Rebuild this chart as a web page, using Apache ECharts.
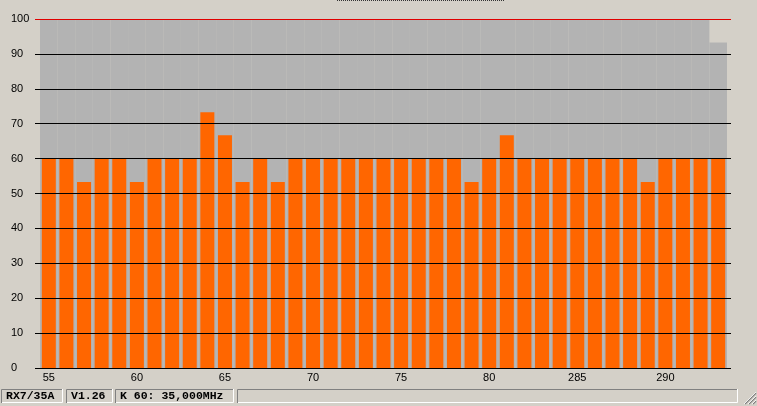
<!DOCTYPE html>
<html>
<head>
<meta charset="utf-8">
<script src="https://cdn.jsdelivr.net/npm/echarts@6/dist/echarts.min.js"></script>
<style>
html,body{margin:0;padding:0;background:#d4d0c8;}
#c{width:757px;height:406px;}
</style>
</head>
<body>
<div id="c"></div>
<script>
// Channel categories (tick labels shown every 5th)
const categories = ['55','56','57','58','59','60','61','62','63','64','65','66','67','68','69','70','71','72','73','74','75','76','77','78','79','80','281','282','283','284','285','286','287','288','289','290','291','292','293'];
// Bar values (%)
const levels = [60,60,53.3,60,60,53.3,60,60,60,73.3,66.7,53.3,60,53.3,60,60,60,60,60,60,60,60,60,60,53.3,60,66.7,60,60,60,60,60,60,60,53.3,60,60,60,60];
// Panel background extent per channel
const panelMax = [100,100,100,100,100,100,100,100,100,100,100,100,100,100,100,100,100,100,100,100,100,100,100,100,100,100,100,100,100,100,100,100,100,100,100,100,100,100,93.3];
// Y tick labels
const yTicks = [0,10,20,30,40,50,60,70,80,90,100];
// Status bar texts
const statusTexts = ['RX7/35A','V1.26','K 60: 35,000MHz',''];

(function(){
const chart = echarts.init(document.getElementById('c'), null, {renderer:'canvas'});

const gridColors = yTicks.map(v => v === 100 ? '#e00000' : '#000000');

const panels = [[1,63],[66,113],[115,234],[237,738]];
const graphics = [];
const pTop = 389, pBot = 403;
panels.forEach((p, i) => {
  const x0 = p[0], x1 = p[1];
  graphics.push({type:'polyline', silent:true, shape:{points:[[x0+0.5,pBot],[x0+0.5,pTop+0.5],[x1,pTop+0.5]]}, style:{stroke:'#808080', lineWidth:1, fill:null}});
  graphics.push({type:'polyline', silent:true, shape:{points:[[x0+1,pBot-0.5],[x1-0.5,pBot-0.5],[x1-0.5,pTop]]}, style:{stroke:'#ffffff', lineWidth:1, fill:null}});
  if (statusTexts[i]) {
    graphics.push({type:'text', silent:true, x:x0+5, y:396, style:{text:statusTexts[i], font:'bold 11.5px "Liberation Mono", monospace', fill:'#000', verticalAlign:'middle'}});
  }
});
[[756,393,745,404],[756,397,749,404],[756,401,753,404]].forEach(l => {
  graphics.push({type:'line', silent:true, shape:{x1:l[0],y1:l[1],x2:l[2],y2:l[3]}, style:{stroke:'#808080', lineWidth:1.2}});
  graphics.push({type:'line', silent:true, shape:{x1:l[0],y1:l[1]-1,x2:l[2]-1,y2:l[3]}, style:{stroke:'#ffffff', lineWidth:0.8}});
});
graphics.push({type:'line', silent:true, shape:{x1:337,y1:0.5,x2:504,y2:0.5}, style:{stroke:'#333', lineWidth:1, lineDash:[1,1]}});

chart.setOption({
  animation:false,
  backgroundColor:'#d4d0c8',
  grid:[
    {left:35, right:26, top:19, bottom:38},
    {left:40, right:30, top:19, bottom:38}
  ],
  xAxis:[
    {gridIndex:0, type:'value', show:false, min:0, max:1},
    {gridIndex:1, type:'category', data:categories,
      axisLine:{show:false}, axisTick:{show:false},
      axisLabel:{interval:4, color:'#000', fontSize:11, fontFamily:'"Liberation Sans", Arial, sans-serif', margin:4}},
    {gridIndex:1, type:'category', data:categories, show:false}
  ],
  yAxis:[
    {gridIndex:0, type:'value', min:0, max:100, interval:10, z:10,
      axisLine:{show:false}, axisTick:{show:false},
      axisLabel:{align:'left', margin:24, color:'#000', fontSize:11, fontFamily:'"Liberation Sans", Arial, sans-serif', padding:[0,0,4,0]},
      splitLine:{show:true, lineStyle:{color:gridColors, width:1}}},
    {gridIndex:1, type:'value', min:0, max:100, interval:10, show:false, splitLine:{show:false}}
  ],
  series:[
    {type:'bar', xAxisIndex:2, yAxisIndex:1, data:panelMax, barWidth:'100%', itemStyle:{color:'#b3b3b3'}, silent:true, z:1},
    {type:'bar', xAxisIndex:1, yAxisIndex:1, data:levels, barWidth:14, itemStyle:{color:'#ff6600'}, z:2}
  ],
  graphic:graphics
});
})();
</script>
</body>
</html>
